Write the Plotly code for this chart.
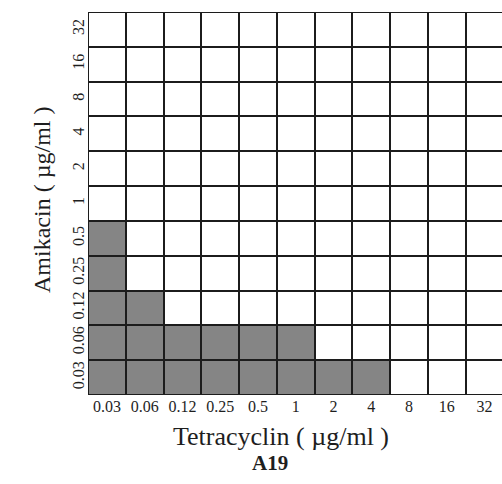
import plotly.graph_objects as go

tetracyclin = ["0.03", "0.06", "0.12", "0.25", "0.5", "1", "2", "4", "8", "16", "32"]
amikacin = ["0.03", "0.06", "0.12", "0.25", "0.5", "1", "2", "4", "8", "16", "32"]

# growth (1 = turbid / grey well) by amikacin row, tetracyclin column
growth = [
    [1, 1, 1, 1, 1, 1, 1, 1, 0, 0, 0],  # 0.03
    [1, 1, 1, 1, 1, 1, 0, 0, 0, 0, 0],  # 0.06
    [1, 1, 0, 0, 0, 0, 0, 0, 0, 0, 0],  # 0.12
    [1, 0, 0, 0, 0, 0, 0, 0, 0, 0, 0],  # 0.25
    [1, 0, 0, 0, 0, 0, 0, 0, 0, 0, 0],  # 0.5
    [0, 0, 0, 0, 0, 0, 0, 0, 0, 0, 0],  # 1
    [0, 0, 0, 0, 0, 0, 0, 0, 0, 0, 0],  # 2
    [0, 0, 0, 0, 0, 0, 0, 0, 0, 0, 0],  # 4
    [0, 0, 0, 0, 0, 0, 0, 0, 0, 0, 0],  # 8
    [0, 0, 0, 0, 0, 0, 0, 0, 0, 0, 0],  # 16
    [0, 0, 0, 0, 0, 0, 0, 0, 0, 0, 0],  # 32
]

FONT = "Liberation Serif"
TXT = "#1e1e1e"

fig = go.Figure(go.Heatmap(
    z=growth,
    x=list(range(len(tetracyclin))),
    y=list(range(len(amikacin))),
    colorscale=[[0, "#ffffff"], [1, "#858585"]],
    zmin=0, zmax=1,
    showscale=False,
    xgap=2, ygap=2,
    hoverinfo="skip",
))

fig.update_layout(
    width=502, height=484,
    margin=dict(l=88, r=0, t=12, b=89),
    paper_bgcolor="white",
    plot_bgcolor="#1c1c1c",
    font=dict(family=FONT, color=TXT),
    showlegend=False,
    xaxis=dict(
        tickmode="array",
        tickvals=list(range(len(tetracyclin))),
        ticktext=tetracyclin,
        range=[-0.5, 10.46],
        showgrid=False, zeroline=False, ticks="",
        tickfont=dict(size=16, family=FONT, color=TXT),
        fixedrange=True,
    ),
    yaxis=dict(
        tickmode="array",
        tickvals=list(range(len(amikacin))),
        ticktext=amikacin,
        range=[-0.5, 10.5],
        showgrid=False, zeroline=False, ticks="",
        tickangle=-90,
        tickfont=dict(size=16, family=FONT, color=TXT),
        fixedrange=True,
    ),
    annotations=[
        dict(text="Tetracyclin ( µg/ml )", xref="paper", yref="paper",
             x=(281 - 88) / 414, y=-(436 - 395) / 383, showarrow=False,
             xanchor="center", yanchor="middle",
             font=dict(size=26, family=FONT, color=TXT)),
        dict(text="<b>A19</b>", xref="paper", yref="paper",
             x=(270 - 88) / 414, y=-(463 - 395) / 383, showarrow=False,
             xanchor="center", yanchor="middle",
             font=dict(size=21, family=FONT, color=TXT)),
        dict(text="Amikacin ( µg/ml )", xref="paper", yref="paper",
             x=-(88 - 42) / 414, y=(395 - 200) / 383, showarrow=False,
             xanchor="center", yanchor="middle", textangle=-90,
             font=dict(size=24, family=FONT, color=TXT)),
    ],
)

fig.write_html("out.html")
